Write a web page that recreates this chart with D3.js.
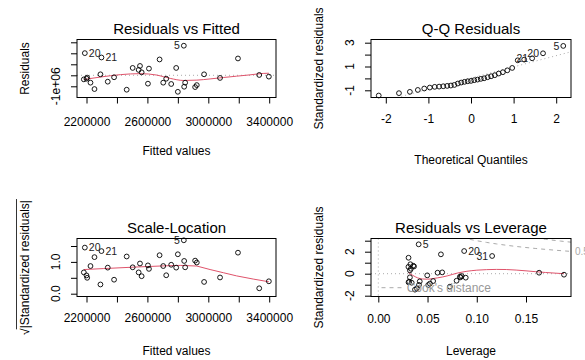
<!DOCTYPE html>
<html>
<head>
<meta charset="utf-8">
<script src="https://cdn.jsdelivr.net/npm/d3@7/dist/d3.min.js"></script>
<style>
  html,body{margin:0;padding:0;background:#fff;}
  svg{display:block;font-family:"Liberation Sans",Arial,Helvetica,sans-serif;}
</style>
</head>
<body>
<svg id="chart" width="585" height="360"></svg>
<script>
// ---------------- DATA ----------------
const obsNames = ["20","21","5","","","","","","","","","","","","","","","","","","","","","","","","","","","","31","",""];
const fitted = [2189100,2298200,2839300,2182500,2204400,2200000,2226200,2252400,2291600,2339600,2381100,2464000,2503300,2542500,2551300,2562200,2603600,2610200,2680000,2704000,2723600,2756400,2789100,2800000,2841500,2848000,2913500,2924400,2972400,3077100,3194900,3334500,3397800];
const residuals = [2015000,1620000,2690000,-370000,-210000,-310000,-670000,-1250000,90000,-580000,-180000,-1310000,670000,490000,850000,270000,-760000,610000,1440000,-670000,-310000,-790000,670000,-1500000,-1040000,-670000,-1070000,-890000,90000,-240000,1530000,30000,-120000];
const sqrtAbsStdRes = [1.45,1.34,1.68,0.67,0.50,0.575,0.87,1.15,0.29,0.82,0.44,1.17,0.83,0.67,0.95,0.55,0.89,0.78,1.21,0.87,0.58,0.91,0.82,1.24,1.03,0.83,1.04,0.98,0.37,0.51,1.29,0.17,0.39];
const leverage = [0.0872,0.0636,0.0410,0.0888,0.0834,0.0846,0.0795,0.0727,0.0649,0.0557,0.0497,0.0391,0.0355,0.0331,0.0326,0.0321,0.0307,0.0306,0.0307,0.0314,0.0321,0.0339,0.0363,0.0372,0.0413,0.0421,0.0507,0.0524,0.0602,0.0829,0.1156,0.1633,0.1886];
const stdResiduals = [2.06,1.76,2.67,-0.36,-0.33,-0.21,-0.64,-1.18,0.12,-0.67,-0.15,-1.33,0.72,0.45,0.86,0.30,-0.78,0.62,1.45,-0.73,-0.33,-0.82,0.66,-1.45,-1.02,-0.70,-1.03,-0.90,0.09,-0.27,1.61,0.09,-0.09];

const qqTheoretical = [-2.166,-1.691,-1.435,-1.248,-1.097,-0.967,-0.852,-0.748,-0.651,-0.559,-0.473,-0.390,-0.309,-0.230,-0.153,-0.076,0,0.076,0.153,0.230,0.309,0.390,0.473,0.559,0.651,0.748,0.852,0.967,1.097,1.248,1.435,1.691,2.166];
const qqSample = [-1.44,-1.24,-1.13,-0.97,-0.85,-0.77,-0.71,-0.69,-0.66,-0.63,-0.60,-0.55,-0.43,-0.35,-0.29,-0.24,-0.21,-0.15,-0.10,-0.04,0.01,0.10,0.18,0.27,0.41,0.52,0.68,0.88,1.52,1.58,1.69,2.11,2.73];
const qqNames = ["","","","","","","","","","","","","","","","","","","","","","","","","","","","","","","21","20","5"];
const qqLineX = [-1.70, 2.33];
const qqLineY = [-1.57, 2.22];

const smooth1X = [2182500,2291600,2422500,2553500,2662600,2749800,2837100,2924400,3011600,3098900,3186200,3273400,3360700,3397800];
const smooth1Y = [-380000,-160000,60000,150000,20000,-280000,-470000,-440000,-330000,-200000,-80000,40000,170000,190000];
const smooth3X = [2182500,2313500,2531600,2706200,2815300,2924400,3011600,3098900,3186200,3295300,3397800];
const smooth3Y = [0.76,0.79,0.84,0.875,0.89,0.87,0.76,0.66,0.56,0.46,0.375];
const smooth4X = [0.0305,0.035,0.040,0.045,0.050,0.055,0.060,0.065,0.070,0.080,0.090,0.100,0.110,0.120,0.130,0.140,0.150,0.160,0.170,0.180,0.1886];
const smooth4Y = [0.10,-0.15,-0.38,-0.48,-0.50,-0.45,-0.38,-0.30,-0.20,0.05,0.22,0.32,0.37,0.39,0.38,0.33,0.26,0.18,0.11,0.05,0.0];

const cookHalfH = [0.085,0.094,0.10,0.11,0.12,0.13,0.14,0.15,0.16,0.17,0.18,0.19,0.196];
const cookHalfY = [3.283,3.105,3.0,2.844,2.708,2.587,2.478,2.380,2.291,2.210,2.134,2.065,2.025];
const cookOneH = [0.16,0.165,0.17,0.175,0.18,0.185,0.19,0.196];
const cookOneY = [3.240,3.181,3.125,3.071,3.018,2.968,2.920,2.864];

const ticks1X = [2200000,2400000,2600000,2800000,3000000,3200000,3400000];
const labels1X = ["2200000","","2600000","","3000000","","3400000"];
const ticks1Y = [-1000000,0,1000000,2000000,3000000];
const labels1Y = ["-1e+06","","","",""];
const ticks2X = [-2,-1,0,1,2];
const labels2X = ["-2","-1","0","1","2"];
const ticks2Y = [-1,0,1,2,3];
const labels2Y = ["-1","","1","","3"];
const ticks3Y = [0,0.5,1,1.5];
const labels3Y = ["0.0","","1.0",""];
const ticks4X = [0,0.05,0.10,0.15];
const labels4X = ["0.00","0.05","0.10","0.15"];
const ticks4Y = [-2,-1,0,1,2,3];
const labels4Y = ["-2","","0","","2",""];

// ---------------- DRAWING ----------------
const svg = d3.select("#chart");
const RED = "#DF536B", GREY = "#aaaaaa";

function makePanel(id, box, title, xlab, xlabOff) {
  const g = svg.append("g");
  svg.append("clipPath").attr("id", "clip" + id).append("rect")
    .attr("x", box.x0).attr("y", box.y0).attr("width", box.x1 - box.x0).attr("height", box.y1 - box.y0);
  const inner = g.append("g").attr("clip-path", `url(#clip${id})`);
  g.append("text").attr("x", (box.x0 + box.x1) / 2).attr("y", box.y0 - 5.5)
    .attr("text-anchor", "middle").attr("font-size", 15).attr("fill", "#000").text(title);
  g.append("text").attr("x", (box.x0 + box.x1) / 2).attr("y", box.y1 + xlabOff)
    .attr("text-anchor", "middle").attr("font-size", 12).attr("fill", "#000").text(xlab);
  return {g, inner, box};
}
function drawBox(p) {
  const b = p.box;
  p.g.append("rect").attr("x", b.x0).attr("y", b.y0).attr("width", b.x1 - b.x0).attr("height", b.y1 - b.y0)
    .attr("fill", "none").attr("stroke", "#000").attr("stroke-width", 1);
}
function axes(p, x, y, tx, lx, ty, ly, tickBase) {
  const b = p.box;
  const ax = p.g.append("g").attr("transform", `translate(0,${b.y1})`)
    .call(d3.axisBottom(x).tickValues(tx).tickSize(6).tickPadding(tickBase - 14.5).tickFormat((d, i) => lx[i]));
  ax.select(".domain").remove();
  ax.attr("font-size", 12).attr("font-family", null).style("color", "#000");
  const ay = p.g.append("g").attr("transform", `translate(${b.x0},0)`)
    .call(d3.axisLeft(y).tickValues(ty).tickSize(6).tickFormat(""));
  ay.select(".domain").remove();
  ay.style("color", "#000");
  p.g.selectAll(null).data(ty).enter().append("text")
    .attr("transform", d => `translate(${b.x0 - 17},${y(d)}) rotate(-90)`)
    .attr("text-anchor", "middle").attr("font-size", 12).attr("fill", "#000")
    .text((d, i) => ly[i]);
}
function yTitle(p, txt) {
  const b = p.box;
  p.g.append("text").attr("transform", `translate(${b.x0 - 48},${(b.y0 + b.y1) / 2}) rotate(-90)`)
    .attr("text-anchor", "middle").attr("font-size", 12).attr("fill", "#000").text(txt);
}
function points(p, xs, ys, x, y) {
  p.g.selectAll(null).data(xs).enter().append("circle")
    .attr("cx", (d) => x(d)).attr("cy", (d, i) => y(ys[i])).attr("r", 2.4)
    .attr("fill", "none").attr("stroke", "#000").attr("stroke-width", 0.9);
}
function idLabels(p, xs, ys, names, x, y, mid) {
  const idx = names.map((n, i) => i).filter(i => names[i] !== "");
  p.g.selectAll(null).data(idx).enter().append("text")
    .attr("x", i => xs[i] < mid ? x(xs[i]) + 4 : x(xs[i]) - 4)
    .attr("y", i => y(ys[i])).attr("dy", "0.36em")
    .attr("text-anchor", i => xs[i] < mid ? "start" : "end")
    .attr("font-size", 10.5).attr("fill", "#222").text(i => names[i]);
}
function pathLine(p, xs, ys, x, y, color, dash, curve) {
  const line = d3.line().x(d => x(d[0])).y(d => y(d[1])).curve(curve || d3.curveMonotoneX);
  p.inner.append("path").datum(xs.map((v, i) => [v, ys[i]])).attr("d", line)
    .attr("fill", "none").attr("stroke", color).attr("stroke-width", 1)
    .attr("stroke-dasharray", dash || null);
}

// Panel 1: Residuals vs Fitted
const box1 = {x0: 77, x1: 276, y0: 39.5, y1: 97.5};
const p1 = makePanel(1, box1, "Residuals vs Fitted", "Fitted values", 57.5);
const x1 = d3.scaleLinear().domain([2200000, 3400000]).range([86.5, 269.2]);
const y1 = d3.scaleLinear().domain([-1000000, 3000000]).range([86.3, 42.3]);
p1.inner.append("line").attr("x1", box1.x0).attr("x2", box1.x1).attr("y1", y1(0)).attr("y2", y1(0))
  .attr("stroke", GREY).attr("stroke-dasharray", "1,3");
pathLine(p1, smooth1X, smooth1Y, x1, y1, RED);
points(p1, fitted, residuals, x1, y1);
idLabels(p1, fitted, residuals, obsNames.map(n => ["20","21","5"].includes(n) ? n : ""), x1, y1, x1.invert((box1.x0 + box1.x1) / 2));
drawBox(p1);
axes(p1, x1, y1, ticks1X, labels1X, ticks1Y, labels1Y, 28);
yTitle(p1, "Residuals");

// Panel 2: Q-Q Residuals
const box2 = {x0: 371, x1: 571, y0: 39.5, y1: 97.5};
const p2 = makePanel(2, box2, "Q-Q Residuals", "Theoretical Quantiles", 66);
const x2 = d3.scaleLinear().domain([-2, 2]).range([385.8, 556.2]);
const y2 = d3.scaleLinear().domain([-1, 3]).range([90.3, 42.7]);
{
  const slope = (qqLineY[1] - qqLineY[0]) / (qqLineX[1] - qqLineX[0]);
  const ext = [-3, 3];
  p2.inner.append("line")
    .attr("x1", x2(ext[0])).attr("y1", y2(qqLineY[0] + slope * (ext[0] - qqLineX[0])))
    .attr("x2", x2(ext[1])).attr("y2", y2(qqLineY[0] + slope * (ext[1] - qqLineX[0])))
    .attr("stroke", GREY).attr("stroke-dasharray", "1,3");
}
points(p2, qqTheoretical, qqSample, x2, y2);
idLabels(p2, qqTheoretical, qqSample, qqNames, x2, y2, 0);
drawBox(p2);
axes(p2, x2, y2, ticks2X, labels2X, ticks2Y, labels2Y, 25);
yTitle(p2, "Standardized residuals");

// Panel 3: Scale-Location
const box3 = {x0: 77, x1: 276, y0: 238.5, y1: 296.5};
const p3 = makePanel(3, box3, "Scale-Location", "Fitted values", 58);
const x3 = x1.copy();
const y3 = d3.scaleLinear().domain([0, 1.5]).range([293.7, 246]);
pathLine(p3, smooth3X, smooth3Y, x3, y3, RED, null, d3.curveLinear);
points(p3, fitted, sqrtAbsStdRes, x3, y3);
idLabels(p3, fitted, sqrtAbsStdRes, obsNames.map(n => ["20","21","5"].includes(n) ? n : ""), x3, y3, x3.invert((box3.x0 + box3.x1) / 2));
drawBox(p3);
axes(p3, x3, y3, ticks1X, labels1X, ticks3Y, labels3Y, 25);
{
  const cy = (box3.y0 + box3.y1) / 2;
  const g = p3.g.append("g").attr("transform", `translate(${box3.x0 - 48},${cy}) rotate(-90)`);
  const rad = g.append("text").attr("font-size", 12).attr("fill", "#000").text("\u221A");
  const main = g.append("text").attr("font-size", 12).attr("fill", "#000").text("|Standardized residuals|");
  const wr = rad.node().getComputedTextLength();
  const wm = main.node().getComputedTextLength();
  const total = wr + wm;
  rad.attr("x", -total / 2);
  main.attr("x", -total / 2 + wr);
  g.append("line").attr("x1", -total / 2 + wr * 0.85).attr("x2", total / 2 + 1)
    .attr("y1", -12.5).attr("y2", -12.5).attr("stroke", "#000").attr("stroke-width", 0.8);
}

// Panel 4: Residuals vs Leverage
const box4 = {x0: 371, x1: 571, y0: 238.5, y1: 296.5};
const p4 = makePanel(4, box4, "Residuals vs Leverage", "Leverage", 58.5);
const x4 = d3.scaleLinear().domain([0, 0.15]).range([378.3, 526]);
const y4 = d3.scaleLinear().domain([-2, 2]).range([295.7, 251.7]);
p4.inner.append("line").attr("x1", box4.x0).attr("x2", box4.x1).attr("y1", y4(0)).attr("y2", y4(0))
  .attr("stroke", GREY).attr("stroke-dasharray", "1,3");
p4.inner.append("line").attr("x1", x4(0)).attr("x2", x4(0)).attr("y1", box4.y0).attr("y2", box4.y1)
  .attr("stroke", GREY).attr("stroke-dasharray", "1,3");
pathLine(p4, cookHalfH, cookHalfY, x4, y4, GREY, "4,4");
pathLine(p4, cookOneH, cookOneY, x4, y4, GREY, "4,4");
pathLine(p4, smooth4X, smooth4Y, x4, y4, RED);
points(p4, leverage, stdResiduals, x4, y4);
idLabels(p4, leverage, stdResiduals, obsNames.map(n => ["5","20","31"].includes(n) ? n : ""), x4, y4, x4.invert((box4.x0 + box4.x1) / 2));
drawBox(p4);
axes(p4, x4, y4, ticks4X, labels4X, ticks4Y, labels4Y, 26);
yTitle(p4, "Standardized residuals");
// legend
p4.g.append("line").attr("x1", 381.5).attr("x2", 403.5).attr("y1", 287.7).attr("y2", 287.7)
  .attr("stroke", GREY).attr("stroke-dasharray", "4,4");
p4.g.append("text").attr("x", 406.7).attr("y", 291.8).attr("font-size", 12).attr("fill", "#999").text("Cook's distance");
p4.g.append("text").attr("x", 575).attr("y", y4(cookHalfY[cookHalfY.length - 1])).attr("dy", "0.36em")
  .attr("font-size", 10).attr("fill", GREY).text("0.5");
</script>
</body>
</html>
